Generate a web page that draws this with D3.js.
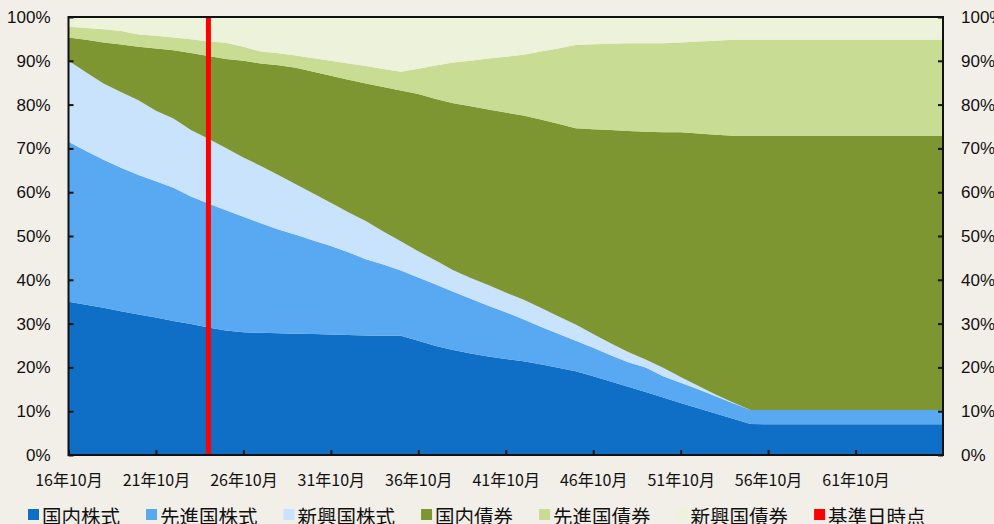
<!DOCTYPE html>
<html>
<head>
<meta charset="utf-8">
<script src="https://cdn.jsdelivr.net/npm/d3@7"></script>
<style>
  html, body { margin: 0; padding: 0; background: #f2eee8; }
  svg { display: block; }
</style>
</head>
<body>
<svg id="chart" width="994" height="524"></svg>
<script>
// 年 (16年10月 ... 66年10月)
const years = d3.range(16, 67);

const domesticStock = [35.0, 34.3, 33.6, 32.8, 32.1, 31.4, 30.6, 29.9, 29.1, 28.4, 28.0, 27.9, 27.8, 27.7, 27.6, 27.5, 27.4, 27.3, 27.2, 27.2,
  26.1, 24.9, 24.0, 23.2, 22.5, 21.9, 21.4, 20.7, 19.9, 19.1, 18.0, 16.8, 15.6, 14.4, 13.1, 11.9, 10.7, 9.5, 8.3, 7.1,
  7.0, 7.0, 7.0, 7.0, 7.0, 7.0, 7.0, 7.0, 7.0, 7.0, 7.0];
const foreignStock = [36.5, 35.1, 33.8, 32.8, 31.8, 31.1, 30.4, 29.1, 28.3, 27.5, 26.4, 25.0, 23.7, 22.6, 21.4, 20.2, 18.9, 17.4, 16.3, 14.9,
  14.4, 14.0, 13.3, 12.5, 11.6, 10.7, 9.6, 8.6, 7.8, 7.0, 6.5, 6.0, 5.6, 5.6, 4.9, 4.6, 4.3, 3.9, 3.5, 3.2,
  3.3, 3.3, 3.3, 3.3, 3.3, 3.3, 3.3, 3.3, 3.3, 3.3, 3.3];
const emergingStock = [18.5, 18.0, 17.4, 17.3, 17.1, 16.1, 15.8, 15.2, 14.8, 14.2, 13.5, 13.1, 12.4, 11.5, 10.7, 9.9, 9.1, 8.7, 7.5, 6.7,
  6.0, 5.5, 4.9, 4.7, 4.7, 4.5, 4.5, 4.3, 4.0, 3.7, 3.1, 2.7, 2.3, 1.8, 1.9, 1.3, 0.8, 0.4, 0.2, 0,
  0, 0, 0, 0, 0, 0, 0, 0, 0, 0, 0];
const domesticBond = [5.3, 7.4, 9.4, 10.8, 12.2, 14.2, 15.6, 17.6, 18.9, 20.3, 22.1, 23.4, 25.1, 26.6, 27.8, 29.0, 30.3, 31.4, 33.0, 34.4,
  35.9, 36.9, 38.1, 39.2, 40.1, 41.1, 42.0, 43.0, 43.9, 44.8, 46.8, 48.7, 50.5, 52.0, 53.8, 55.9, 57.6, 59.3, 60.9, 62.6,
  62.6, 62.6, 62.6, 62.6, 62.6, 62.6, 62.6, 62.6, 62.6, 62.6, 62.6];
const foreignBond = [2.5, 2.7, 3.0, 3.1, 2.8, 2.9, 2.9, 3.1, 3.3, 3.7, 3.2, 2.7, 2.7, 2.8, 3.1, 3.4, 3.7, 4.0, 4.1, 4.3,
  5.8, 7.6, 9.3, 10.4, 11.6, 12.7, 13.9, 15.5, 17.2, 19.0, 19.4, 19.7, 20.0, 20.2, 20.3, 20.5, 21.0, 21.5, 21.9, 21.9,
  21.9, 21.9, 21.9, 21.9, 21.9, 21.9, 21.9, 21.9, 21.9, 21.9, 21.9];
const emergingBond = [2.2, 2.5, 2.8, 3.2, 4.0, 4.3, 4.7, 5.1, 5.6, 5.9, 6.8, 7.9, 8.3, 8.8, 9.4, 10.0, 10.6, 11.2, 11.9, 12.5,
  11.8, 11.1, 10.4, 10.0, 9.5, 9.1, 8.6, 7.9, 7.2, 6.4, 6.2, 6.1, 6.0, 6.0, 6.0, 5.8, 5.6, 5.4, 5.2, 5.2,
  5.2, 5.2, 5.2, 5.2, 5.2, 5.2, 5.2, 5.2, 5.2, 5.2, 5.2];

const seriesNames = ["国内株式", "先進国株式", "新興国株式", "国内債券", "先進国債券", "新興国債券"];
const seriesValues = [domesticStock, foreignStock, emergingStock, domesticBond, foreignBond, emergingBond];
const seriesColors = ["#0f6fc6", "#58a8f2", "#c8e3fb", "#7d9632", "#c9dc94", "#edf2da"];

const baseDateYear = 24;          // 基準日時点
const baseDateLabel = "基準日時点";
const xTickYears = d3.range(16, 62, 5);
const yTicks = d3.range(0, 101, 10);

const margin = {top: 17, right: 51, bottom: 69, left: 68.5};
const width = 994, height = 524;

const svg = d3.select("#chart");

const x = d3.scaleLinear()
  .domain([16, 66])
  .range([margin.left, width - margin.right]);

const y = d3.scaleLinear()
  .domain([0, 100])
  .range([height - margin.bottom, margin.top]);

// build table for the stack
const table = years.map((yr, i) => {
  const row = {year: yr};
  seriesNames.forEach((n, j) => row[n] = seriesValues[j][i]);
  return row;
});

const stacked = d3.stack().keys(seriesNames)(table);

const area = d3.area()
  .x(d => x(d.data.year))
  .y0(d => y(d[0]))
  .y1(d => y(d[1]));

svg.append("g")
  .selectAll("path")
  .data(stacked)
  .join("path")
  .attr("d", area)
  .attr("fill", (d, i) => seriesColors[i]);

// 基準日 line
svg.append("line")
  .attr("x1", x(baseDateYear)).attr("x2", x(baseDateYear))
  .attr("y1", y(100)).attr("y2", y(0))
  .attr("stroke", "#ff0000")
  .attr("stroke-width", 5);

// axes
const yFont = "'Liberation Sans', Arial, sans-serif";
const jpFont = "'Noto Sans CJK JP', sans-serif";

const leftAxis = svg.append("g")
  .attr("transform", `translate(${margin.left},0)`)
  .call(d3.axisLeft(y).tickValues(yTicks).tickSize(-5).tickPadding(18).tickFormat(d => d + "%"));

const rightAxis = svg.append("g")
  .attr("transform", `translate(${width - margin.right},0)`)
  .call(d3.axisRight(y).tickValues(yTicks).tickSize(-5).tickPadding(18).tickFormat(d => d + "%"));

const bottomAxis = svg.append("g")
  .attr("transform", `translate(0,${height - margin.bottom})`)
  .call(d3.axisBottom(x).tickValues(xTickYears).tickSize(-5).tickPadding(20).tickFormat(d => d + "年10月"));

[leftAxis, rightAxis].forEach(g => {
  g.select(".domain").remove();
  g.selectAll(".tick line").attr("stroke", "#111").attr("stroke-width", 2);
  g.selectAll("text").attr("font-family", yFont).attr("font-size", 17).attr("fill", "#111");
});
bottomAxis.select(".domain").remove();
bottomAxis.selectAll(".tick line").attr("stroke", "#111").attr("stroke-width", 2);
bottomAxis.selectAll("text").attr("font-family", jpFont).attr("font-size", 16).attr("fill", "#111");

// frame
svg.append("rect")
  .attr("x", x(16)).attr("y", y(100))
  .attr("width", x(66) - x(16)).attr("height", y(0) - y(100))
  .attr("fill", "none")
  .attr("stroke", "#111")
  .attr("stroke-width", 2);

// legend
const legendItems = seriesNames.map((n, i) => ({name: n, color: seriesColors[i]}))
  .concat([{name: baseDateLabel, color: "#ff0000"}]);

const legend = svg.append("g").attr("transform", "translate(28,0)");
let lx = 0;
legendItems.forEach(item => {
  const g = legend.append("g").attr("transform", `translate(${lx},0)`);
  g.append("rect")
    .attr("x", 0).attr("y", 509)
    .attr("width", 11).attr("height", 11)
    .attr("fill", item.color);
  const t = g.append("text")
    .attr("x", 14).attr("y", 524)
    .attr("font-family", jpFont)
    .attr("font-size", 19.5)
    .attr("fill", "#111")
    .text(item.name);
  lx += 14 + t.node().getComputedTextLength() + 26;
});
</script>
</body>
</html>
